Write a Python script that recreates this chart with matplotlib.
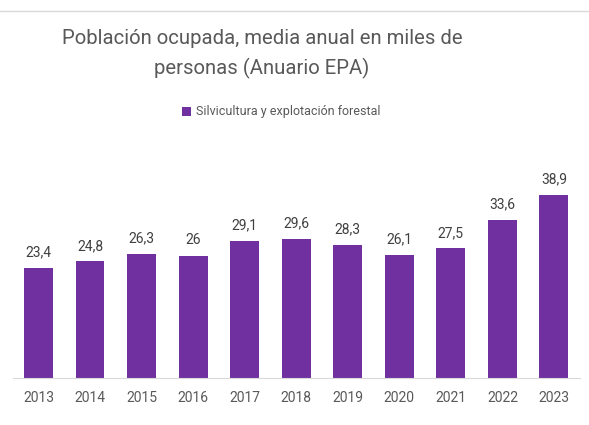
import matplotlib
matplotlib.use('Agg')
from matplotlib import pyplot as plt
from matplotlib.lines import Line2D

years = ['2013', '2014', '2015', '2016', '2017', '2018',
         '2019', '2020', '2021', '2022', '2023']
values = [23.4, 24.8, 26.3, 26.0, 29.1, 29.6, 28.3, 26.1, 27.5, 33.6, 38.9]
labels = ['23,4', '24,8', '26,3', '26', '29,1', '29,6',
          '28,3', '26,1', '27,5', '33,6', '38,9']
series_name = 'Silvicultura y explotación forestal'
title = 'Población ocupada, media anual en miles de\npersonas (Anuario EPA)'

purple = '#7030A0'
plt.rcParams['font.family'] = ['Roboto', 'DejaVu Sans']

fig = plt.figure(figsize=(5.89, 4.25), dpi=100)
ax = fig.add_axes([12.7 / 589, 1 - 378 / 425, 567 / 589, 212 / 425])

x = range(len(years))
bars = ax.bar(x, values, width=0.56, color=purple, label=series_name)
for b, lab in zip(bars, labels):
    ax.annotate(lab, (b.get_x() + b.get_width() / 2, b.get_height()),
                xytext=(0, 6), textcoords='offset points',
                ha='center', va='bottom', fontsize=10, color='#404040')

ax.set_xlim(-0.5, len(years) - 0.5)
ax.set_ylim(0, 45)
ax.set_xticks(list(x))
ax.set_xticklabels(years, fontsize=10, color='#595959')
ax.tick_params(axis='x', length=0, pad=9)
ax.set_yticks([])
for side in ['top', 'left', 'right']:
    ax.spines[side].set_visible(False)
ax.spines['bottom'].set_color('#d9d9d9')
ax.spines['bottom'].set_linewidth(0.8)

fig.text(262 / 589, 1 - 54 / 425, title, ha='center', va='center',
         fontsize=14.6, color='#595959', linespacing=1.55)

fig.legend(handles=[bars], labels=[series_name], loc='center',
           bbox_to_anchor=(281 / 589, 1 - 112 / 425), frameon=False,
           fontsize=9, labelcolor='#595959', handlelength=0.7,
           handleheight=0.7, handletextpad=0.4)

fig.add_artist(Line2D([0, 1], [1 - 11 / 425, 1 - 11 / 425],
                      color='#d9d9d9', linewidth=1))

fig.savefig('out.png', dpi=100)
